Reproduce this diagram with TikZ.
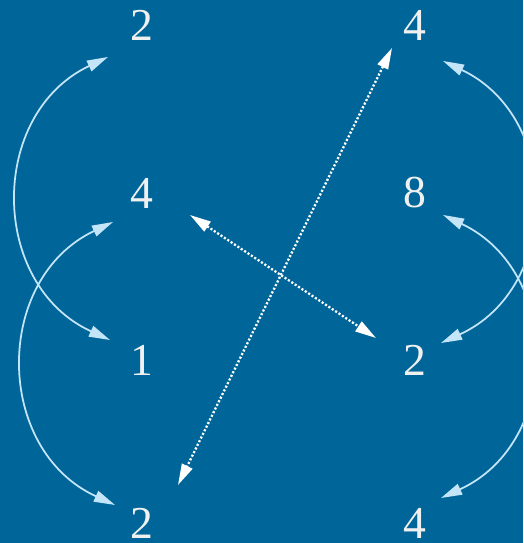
\documentclass[tikz,border=0pt]{standalone}
\usepackage{fontspec}
\setmainfont{Liberation Serif}
\usepackage{tikz}
\usetikzlibrary{arrows.meta, calc}
\definecolor{bgblue}{RGB}{0, 102, 153}
\definecolor{arccol}{RGB}{196, 228, 248}
\definecolor{numcol}{RGB}{240, 240, 240}

\begin{document}
\begin{tikzpicture}[
    x=0.02cm, y=0.02cm,
    number/.style={text=numcol, inner sep=0pt, font=\fontsize{26}{30}\selectfont},
    swaparc/.style={{Triangle[length=12pt, width=6.5pt]}-{Triangle[length=12pt, width=6.5pt]},
                    draw=arccol, line width=1pt, looseness=1.2},
    crossline/.style={{Triangle[length=12pt, width=6.5pt]}-{Triangle[length=12pt, width=6.5pt]},
                      draw=white, line width=1.3pt,
                      dash pattern=on 1.2pt off 1.1pt},
]

% ============================================================
% BACKGROUND
% ============================================================
\fill[bgblue] (0, 0) rectangle (523, 543);
\useasboundingbox (0, 0) rectangle (523, 543);

% ============================================================
% NUMBERS (two columns)
% ============================================================
\node[number] (la) at (142, 517.5) {2};
\node[number] (lb) at (142, 350)   {4};
\node[number] (lc) at (142, 183)   {1};
\node[number] (ld) at (142, 20)    {2};

\node[number] (ra) at (415, 517.5) {4};
\node[number] (rb) at (415, 350)   {8};
\node[number] (rc) at (415, 183)   {2};
\node[number] (rd) at (415, 20)    {4};

% ============================================================
% LEFT ARCS
% ============================================================
\draw[swaparc] ($(la) + (-34, -31.5)$) to[bend right=65] ($(lc) + (-32, 20)$);
\draw[swaparc] ($(lb) + (-29, -29)$)   to[bend right=65] ($(ld) + (-27, 18)$);

% ============================================================
% RIGHT ARCS
% ============================================================
\draw[swaparc] ($(ra) + (28, -35.5)$) to[bend left=65] ($(rc) + (26, 17)$);
\draw[swaparc] ($(rb) + (28, -22)$)   to[bend left=65] ($(rd) + (26, 25)$);

% ============================================================
% DOTTED CROSS
% ============================================================
\draw[crossline] ($(ra) + (-23, -22.5)$) -- ($(ld) + (36, 38)$);
\draw[crossline] ($(lb) + (48, -22)$)    -- ($(rc) + (-39, 22)$);

\end{tikzpicture}
\end{document}
